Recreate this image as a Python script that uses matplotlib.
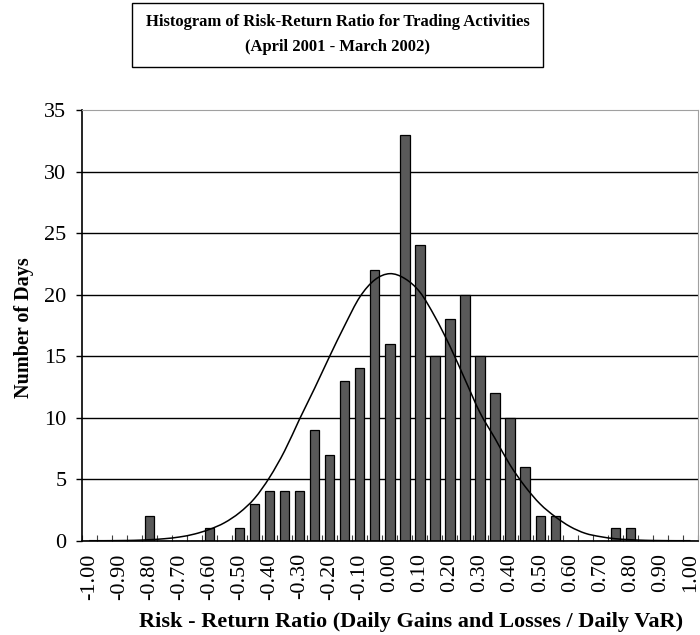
import matplotlib.pyplot as plt
import numpy as np
from matplotlib.path import Path
from matplotlib.patches import PathPatch, Rectangle

plt.rcParams["font.family"] = ["Liberation Serif", "DejaVu Serif"]

# risk-return ratio bins (daily gains and losses / daily VaR)
ratios = ["-1.00", "-0.95", "-0.90", "-0.85", "-0.80", "-0.75", "-0.70",
          "-0.65", "-0.60", "-0.55", "-0.50", "-0.45", "-0.40", "-0.35",
          "-0.30", "-0.25", "-0.20", "-0.15", "-0.10", "-0.05", "0.00",
          "0.05", "0.10", "0.15", "0.20", "0.25", "0.30", "0.35", "0.40",
          "0.45", "0.50", "0.55", "0.60", "0.65", "0.70", "0.75", "0.80",
          "0.85", "0.90", "0.95", "1.00"]

days = [0, 0, 0, 0, 2, 0, 0, 0, 1, 0,
        1, 3, 4, 4, 4, 9, 7, 13, 14, 22,
        16, 33, 24, 15, 18, 20, 15, 12, 10, 6,
        2, 2, 0, 0, 0, 1, 1, 0, 0, 0,
        0]

# fitted normal curve at each bin
fitted = [0, 0, 0.01, 0.03, 0.08, 0.16, 0.3, 0.54, 0.92, 1.46,
          2.28, 3.44, 5.15, 7.3, 9.9, 12.4, 15.0, 17.5, 19.8, 21.2,
          21.7, 21.3, 20.2, 18.2, 15.8, 13.1, 10.4, 8.3, 6.15, 4.4,
          2.98, 1.95, 1.14, 0.6, 0.33, 0.16, 0.08, 0.03, 0.01, 0,
          0]

y_ticks = [0, 5, 10, 15, 20, 25, 30, 35]


def smooth_path(xs, ys):
    # Catmull-Rom through the points, written as cubic Bezier segments
    pts = np.column_stack([xs, ys]).astype(float)
    verts = [pts[0]]
    codes = [Path.MOVETO]
    n = len(pts)
    for i in range(n - 1):
        p0 = pts[max(i - 1, 0)]
        p1 = pts[i]
        p2 = pts[i + 1]
        p3 = pts[min(i + 2, n - 1)]
        c1 = p1 + (p2 - p0) / 6
        c2 = p2 - (p3 - p1) / 6
        verts += [c1, c2, p2]
        codes += [Path.CURVE4] * 3
    return Path(verts, codes)


fig = plt.figure(figsize=(7, 6.35), dpi=100)
ax = fig.add_axes([81.7 / 700, 1 - 540.7 / 635,
                   (698 - 81.7) / 700, (540.7 - 110) / 635])

x = np.arange(len(ratios))
ax.bar(x, days, width=0.62, color="#595959", edgecolor="black",
       linewidth=0.9, zorder=2)

ax.add_patch(PathPatch(smooth_path(x, fitted), facecolor="none",
                       edgecolor="black", linewidth=1.1, zorder=3))

ax.set_xlim(-0.5, len(ratios) - 0.5)
ax.set_ylim(0, 35)
ax.set_axisbelow(True)

ax.set_yticks(y_ticks)
ax.set_yticklabels([str(v) for v in y_ticks], fontsize=16)
ax.yaxis.grid(True, color="black", linewidth=1)
ax.yaxis.get_gridlines()[-1].set_visible(False)
ax.tick_params(axis="y", direction="out", length=4, width=1, pad=7)

ax.set_xticks(x[::2])
ax.set_xticklabels(ratios[::2], rotation=90, fontsize=16)
ax.set_xticks(np.arange(-0.5, len(ratios)), minor=True)
ax.tick_params(axis="x", which="major", length=0, pad=9)
ax.tick_params(axis="x", which="minor", direction="in", length=4.5,
               width=0.8, color="#404040")

for side in ["top", "right"]:
    ax.spines[side].set_color("#a0a0a0")
for side in ["left", "bottom"]:
    ax.spines[side].set_color("black")
    ax.spines[side].set_linewidth(1.2)

# title box
fig.add_artist(Rectangle((131.7 / 700, 1 - 66.7 / 635), (543 - 131.7) / 700,
                         (66.7 - 3.3) / 635, transform=fig.transFigure,
                         facecolor="none", edgecolor="black", linewidth=1))
fig.text(337.5 / 700, 1 - 22.5 / 635,
         "Histogram of Risk-Return Ratio for Trading Activities",
         ha="center", va="center", fontsize=12, fontweight="bold")
fig.text(337.5 / 700, 1 - 47 / 635, "(April 2001 - March 2002)",
         ha="center", va="center", fontsize=12, fontweight="bold")

fig.text(411 / 700, 1 - 622 / 635,
         "Risk - Return Ratio (Daily Gains and Losses / Daily VaR)",
         ha="center", va="center", fontsize=16, fontweight="bold")
fig.text(24 / 700, 1 - 328 / 635, "Number of Days", rotation=90,
         ha="center", va="center", fontsize=14.5, fontweight="bold")

fig.savefig("out.png", dpi=100)
